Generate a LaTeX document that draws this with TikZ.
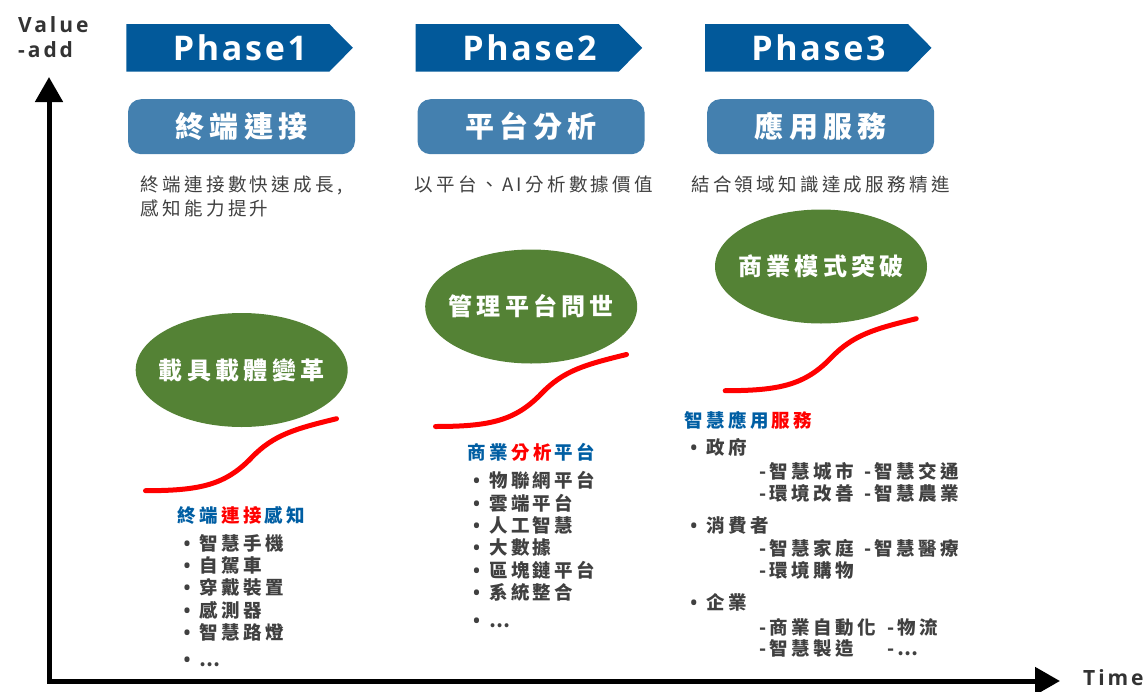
\documentclass[tikz,border=0pt]{standalone}
\usepackage{fontspec}
\setmainfont{Noto Sans CJK TC}[LetterSpace=18]
\newfontfamily\latinfont{Open Sans}[LetterSpace=14]
\newfontfamily\phasefont{Open Sans}[LetterSpace=8]
\usetikzlibrary{arrows.meta,shapes.geometric}

\definecolor{phaseblue}{RGB}{2,89,154}
\definecolor{boxblue}{RGB}{68,128,175}
\definecolor{leafgreen}{RGB}{84,130,53}
\definecolor{titleblue}{RGB}{0,94,163}
\definecolor{inkgray}{RGB}{64,64,64}
\definecolor{axisgray}{RGB}{51,51,51}

\newcommand\itm{\makebox[16pt][l]{\latinfont\bfseries •}}
\newcommand\gap{\hspace{3.3pt}}

\begin{document}
\begin{tikzpicture}[x=1pt,y=-1pt,
    growthline/.style={red,line width=5pt,line cap=round},
    growth/.pic={\draw[growthline] (0,0) .. controls (55,0) and (80,-6) .. (106,-33)
                 .. controls (128,-56) and (150,-62) .. (191,-72);},
    phasearrow/.pic={\fill[phaseblue] (0,-23.8) -- (203,-23.8) -- (226.5,0) -- (203,23.9) -- (0,23.9) -- cycle;}]
  \useasboundingbox (0,0) rectangle (1146,691);

  % axes
  \coordinate (origin) at (49,681);
  \coordinate (vtip)   at (49,77);
  \coordinate (ttip)   at (1060,681);
  \draw[line width=5pt,{Triangle[length=25pt,width=27pt]}-{Triangle[length=25pt,width=27pt]}]
    (vtip) -- (origin) -- (ttip);

  \begin{scope}[every node/.style={inner sep=0,text=axisgray,font=\latinfont\bfseries\fontsize{21}{25}\selectfont}]
    \node[anchor=north west,align=left] (value) at (18,16)     {Value\\-add};
    \node[anchor=west]                  (time)  at (1083,677.5) {Time};
  \end{scope}

  % phase banners
  \pic at (126.3,47.8) {phasearrow};
  \pic at (415.7,47.8) {phasearrow};
  \pic at (705,47.8)   {phasearrow};
  \begin{scope}[every node/.style={inner sep=0,text=white,font=\phasefont\bfseries\fontsize{34}{34}\selectfont}]
    \node (phase1) at (240,48)   {Phase1};
    \node (phase2) at (529.5,48) {Phase2};
    \node (phase3) at (818.5,48) {Phase3};
  \end{scope}

  \begin{scope}[every node/.style={rounded corners=13pt,fill=boxblue,text=white,
      minimum width=227pt,minimum height=55pt,inner sep=0,
      font=\bfseries\fontsize{29}{29}\selectfont}]
    \node (link)     at (241.5,126.7) {終端連接};
    \node (platform) at (531,126.7)   {平台分析};
    \node (service)  at (820.7,126.7) {應用服務};
  \end{scope}

  \begin{scope}[every node/.style={anchor=north west,align=left,inner sep=0,text=inkgray,
      font=\fontsize{18.5}{23.5}\selectfont}]
    \node (linkdesc)     at (140.5,176) {終端連接數快速成長,\\感知能力提升};
    \node (platformdesc) at (414.5,176) {以平台、AI分析數據價值};
    \node (servicedesc)  at (691,176)   {結合領域知識達成服務精進};
  \end{scope}

  \begin{scope}[every node/.style={ellipse,fill=leafgreen,text=white,
      minimum width=212pt,minimum height=114pt,inner xsep=-12pt,inner ysep=0,
      font=\bfseries\fontsize{24}{24}\selectfont}]
    \node (carrier) at (241.7,370)   {載具載體變革};
    \node (manage)  at (531.2,306.5) {管理平台問世};
    \node (model)   at (821,266.5)   {商業模式突破};
  \end{scope}

  \pic at (145.5,490.7) {growth};
  \pic at (435.5,426.5) {growth};
  \pic at (725.2,390.7) {growth};

  \begin{scope}[every node/.style={anchor=west,inner sep=0,
      font=\bfseries\fontsize{18.5}{22}\selectfont}]
    \node (sense)    at (177.5,515)   {\textcolor{titleblue}{終端}\gap\textcolor{red}{連接}\gap\textcolor{titleblue}{感知}};
    \node (analysis) at (467.5,452.7) {\textcolor{titleblue}{商業}\gap\textcolor{red}{分析}\gap\textcolor{titleblue}{平台}};
    \node (apps)     at (684.5,420)   {\textcolor{titleblue}{智慧應用}\gap\textcolor{red}{服務}};
  \end{scope}

  \begin{scope}[every node/.style={anchor=north west,align=left,inner sep=0,text=inkgray,
      font=\bfseries\fontsize{18.5}{22.4}\selectfont}]
    \node (devices) at (183.5,534) {\itm 智慧手機\\\itm 自駕車\\\itm 穿戴裝置\\\itm 感測器\\\itm 智慧路燈\\[4.6pt]\itm …};
    \node (platforms) at (473,471.3) {\itm 物聯網平台\\\itm 雲端平台\\\itm 人工智慧\\\itm 大數據\\\itm 區塊鏈平台\\\itm 系統整合\\[5.3pt]\itm …};
    \node[font=\bfseries\fontsize{18.5}{21.5}\selectfont] (fields) at (690.2,438) {%
      \itm 政府\\[2.8pt]
      \hspace*{69pt}\makebox[105pt][l]{-智慧城市}-智慧交通\\
      \hspace*{69pt}\makebox[105pt][l]{-環境改善}-智慧農業\\[11pt]
      \itm 消費者\\[1.5pt]
      \hspace*{69pt}\makebox[105pt][l]{-智慧家庭}-智慧醫療\\
      \hspace*{69pt}-環境購物\\[11pt]
      \itm 企業\\[3pt]
      \hspace*{69pt}\makebox[128pt][l]{-商業自動化}-物流\\
      \hspace*{69pt}\makebox[128pt][l]{-智慧製造}-…};
  \end{scope}

\end{tikzpicture}
\end{document}
